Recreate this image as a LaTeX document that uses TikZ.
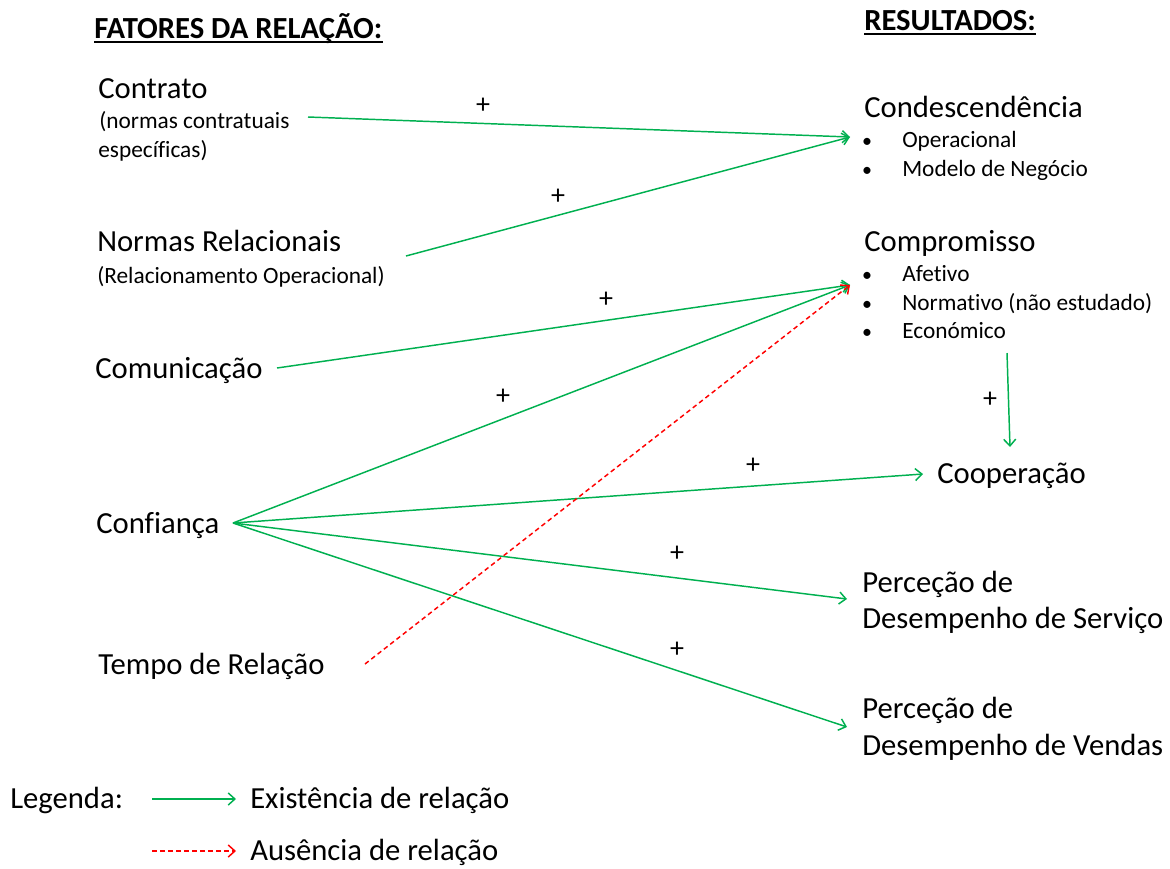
\documentclass[tikz,border=0pt]{standalone}
\usepackage{fontspec}
\setmainfont{Carlito}[Ligatures=NoCommon]
\usetikzlibrary{arrows.meta}
\definecolor{relgreen}{RGB}{0,176,80}
\tikzset{
  big/.style={anchor=base west, inner sep=0pt, font=\fontsize{23}{28}\selectfont},
  sub/.style={anchor=base west, inner sep=0pt, font=\fontsize{17.5}{21}\selectfont},
  head/.style={anchor=base west, inner sep=0pt, font=\fontsize{23}{28}\selectfont\bfseries},
  bul/.style={anchor=base, inner sep=0pt, font=\fontsize{15}{18}\selectfont},
  plus/.style={inner sep=0pt, font=\fontsize{21}{25}\selectfont},
  rel/.style={draw=relgreen, line width=1.1pt, -{Straight Barb[length=5pt,width=9pt]}},
  norel/.style={draw=red, line width=1.1pt, dash pattern=on 3.5pt off 2.5pt, -{Straight Barb[length=5pt,width=9pt]}},
}
\begin{document}
\begin{tikzpicture}[x=0.75pt,y=-0.75pt]
  \useasboundingbox (0,0) rectangle (1170,868);
  % titles
  \node[head] (fatores) at (94,38) {FATORES DA RELAÇÃO:};
  \node[head] (resultados) at (864,30) {RESULTADOS:};
  \draw[line width=1.4pt] ([yshift=-3pt]fatores.base west) -- ([yshift=-3pt]fatores.base east);
  \draw[line width=1.4pt] ([yshift=-3pt]resultados.base west) -- ([yshift=-3pt]resultados.base east);
  % factors
  \node[big] (contrato) at (98,98) {Contrato};
  \node[sub] (contratoA) at (99,128) {(normas contratuais};
  \node[sub] (contratoB) at (98,157) {específicas)};
  \node[big] (normas) at (97,251) {Normas Relacionais};
  \node[sub] (normasA) at (97,283) {(Relacionamento Operacional)};
  \node[big] (comunic) at (95,378) {Comunicação};
  \node[big] (confianca) at (96,533) {Confiança};
  \node[big] (tempo) at (98,674) {Tempo de Relação};
  % results
  \node[big] (condesc) at (864,117) {Condescendência};
  \node[bul] at (867,147) {•}; \node[sub] (operac) at (902,147) {Operacional};
  \node[bul] at (867,176) {•}; \node[sub] (modelo) at (902,176) {Modelo de Negócio};
  \node[big] (comprom) at (864,251) {Compromisso};
  \node[bul] at (867,281) {•}; \node[sub] (afetivo) at (902,281) {Afetivo};
  \node[bul] at (867,310) {•}; \node[sub] (normativo) at (902,310) {Normativo (não estudado)};
  \node[bul] at (867,338) {•}; \node[sub] (economico) at (902,338) {Económico};
  \node[big] (cooper) at (937,483) {Cooperação};
  \node[big] (servA) at (862,592) {Perceção de};
  \node[big] (servB) at (862,628) {Desempenho de Serviço};
  \node[big] (vendA) at (862,718) {Perceção de};
  \node[big] (vendB) at (862,755) {Desempenho de Vendas};
  % connector ends
  \coordinate (contratoOut) at (308,117);
  \coordinate (normasOut) at (406,256);
  \coordinate (comunicOut) at (277,368);
  \coordinate (confOut) at (233,523);
  \coordinate (tempoOut) at (365,664);
  \coordinate (compOut) at (1007,353);
  \coordinate (condIn) at (850,137);
  \coordinate (compIn) at (850,285);
  \coordinate (coopTop) at (1010,447);
  \coordinate (coopIn) at (923,474);
  \coordinate (servIn) at (847,599);
  \coordinate (vendIn) at (847,727);
  % relations
  \draw[rel] (contratoOut) -- (condIn);
  \draw[rel] (normasOut) -- (condIn);
  \draw[rel] (comunicOut) -- (compIn);
  \draw[rel] (confOut) -- (compIn);
  \draw[rel] (confOut) -- (coopIn);
  \draw[rel] (confOut) -- (servIn);
  \draw[rel] (confOut) -- (vendIn);
  \draw[rel] (compOut) -- (coopTop);
  \draw[norel] (tempoOut) -- (compIn);
  \node[plus] at (483,106) {+};
  \node[plus] at (558,197) {+};
  \node[plus] at (606,300) {+};
  \node[plus] at (503,397) {+};
  \node[plus] at (753,466) {+};
  \node[plus] at (677,554) {+};
  \node[plus] at (677,650) {+};
  \node[plus] at (990,400) {+};
  % legend
  \node[big] (legenda) at (10,808) {Legenda:};
  \coordinate (legA) at (152,799); \coordinate (legB) at (236,799);
  \coordinate (legC) at (152,851); \coordinate (legD) at (236,851);
  \draw[rel] (legA) -- (legB);
  \draw[norel] (legC) -- (legD);
  \node[big] (existe) at (250,808) {Existência de relação};
  \node[big] (ausente) at (250,860) {Ausência de relação};
\end{tikzpicture}
\end{document}
